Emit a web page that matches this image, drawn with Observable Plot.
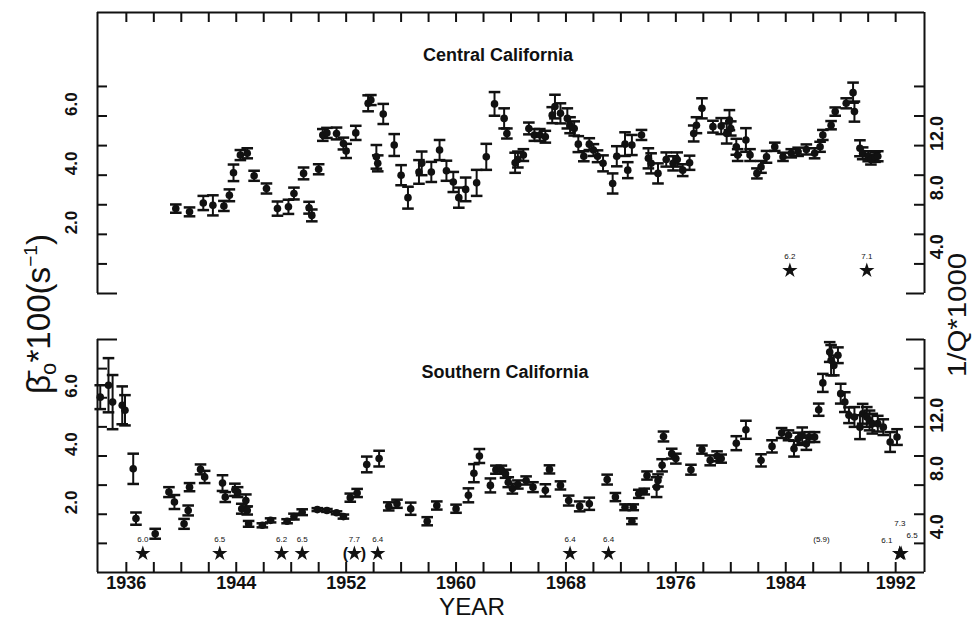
<!DOCTYPE html>
<html>
<head>
<meta charset="utf-8">
<script src="https://cdn.jsdelivr.net/npm/d3@7"></script>
<script src="https://cdn.jsdelivr.net/npm/@observablehq/plot@0.6"></script>
<style>
  html, body { margin: 0; padding: 0; background: #fff; }
  #figure { position: relative; width: 972px; height: 620px; overflow: hidden; background: #fff; }
  #figure > svg { position: absolute; left: 0; }
</style>
</head>
<body>
<div id="figure"></div>
<script>
// ---- Central California: coda decay rate (β̄o*100, s^-1) with one-sigma errors ----
const centralYear = [1939.6, 1940.6, 1941.6, 1942.3, 1943.1, 1943.5, 1943.8, 1944.3, 1944.8, 1945.3,
  1946.2, 1947.0, 1947.8, 1948.2, 1948.9, 1949.3, 1949.5, 1950.0, 1950.3, 1950.6,
  1951.3, 1951.8, 1952.0, 1952.7, 1953.6, 1953.8, 1954.2, 1954.3, 1954.7, 1955.5,
  1956.0, 1956.5, 1957.3, 1957.5, 1958.2, 1958.8, 1959.3, 1959.8, 1960.2, 1960.7,
  1961.5, 1962.2, 1962.8, 1963.5, 1963.7, 1964.3, 1964.5, 1964.9, 1965.3, 1965.7,
  1966.1, 1966.5, 1967.0, 1967.2, 1967.6, 1968.1, 1968.3, 1968.6, 1968.9, 1969.3,
  1969.7, 1970.0, 1970.3, 1970.7, 1971.4, 1971.7, 1972.3, 1972.5, 1972.8, 1973.5,
  1974.0, 1974.2, 1974.7, 1975.3, 1975.8, 1976.1, 1976.5, 1977.0, 1977.3, 1977.5,
  1977.9, 1978.7, 1979.3, 1979.7, 1979.9, 1980.0, 1980.4, 1980.5, 1981.1, 1981.4,
  1981.9, 1982.2, 1982.6, 1983.2, 1983.8, 1984.4, 1984.9, 1985.5, 1986.1, 1986.5,
  1986.7, 1987.3, 1987.6, 1988.4, 1988.9, 1989.0, 1989.4, 1989.6, 1990.0, 1990.2,
  1990.5, 1990.7];
const centralBeta = [2.87, 2.76, 3.06, 2.98, 2.96, 3.32, 4.08, 4.68, 4.74, 3.98,
  3.55, 2.87, 2.93, 3.38, 4.06, 2.90, 2.64, 4.20, 5.36, 5.43,
  5.41, 5.07, 4.82, 5.43, 6.43, 6.54, 4.62, 4.40, 6.07, 5.02,
  4.00, 3.24, 4.11, 4.40, 4.11, 4.85, 4.15, 3.77, 3.24, 3.52,
  3.74, 4.62, 6.41, 5.92, 5.41, 4.42, 4.53, 4.68, 5.58, 5.36,
  5.36, 5.30, 6.03, 6.32, 6.09, 5.92, 5.69, 5.58, 5.05, 4.64,
  5.05, 4.85, 4.64, 4.40, 3.72, 4.64, 5.05, 4.17, 5.02, 5.36,
  4.57, 4.40, 4.06, 4.53, 4.40, 4.53, 4.17, 4.42, 5.41, 5.69,
  6.26, 5.64, 5.66, 5.41, 5.86, 5.58, 4.96, 4.68, 5.19, 4.68,
  4.06, 4.28, 4.62, 4.96, 4.62, 4.74, 4.79, 4.87, 4.74, 4.96,
  5.36, 5.69, 6.15, 6.43, 6.79, 6.15, 4.91, 4.74, 4.64, 4.53,
  4.62, 4.64];
const centralErr = [0.14, 0.15, 0.24, 0.34, 0.17, 0.20, 0.28, 0.17, 0.17, 0.17,
  0.17, 0.24, 0.24, 0.20, 0.20, 0.20, 0.20, 0.17, 0.20, 0.17,
  0.20, 0.20, 0.24, 0.24, 0.27, 0.17, 0.40, 0.27, 0.34, 0.37,
  0.34, 0.37, 0.40, 0.40, 0.34, 0.34, 0.34, 0.34, 0.34, 0.40,
  0.44, 0.44, 0.40, 0.34, 0.17, 0.34, 0.27, 0.20, 0.20, 0.20,
  0.20, 0.20, 0.27, 0.40, 0.34, 0.34, 0.27, 0.24, 0.27, 0.17,
  0.20, 0.20, 0.20, 0.27, 0.34, 0.34, 0.40, 0.27, 0.34, 0.17,
  0.34, 0.34, 0.34, 0.24, 0.24, 0.24, 0.20, 0.24, 0.27, 0.27,
  0.34, 0.20, 0.27, 0.34, 0.34, 0.24, 0.27, 0.20, 0.40, 0.20,
  0.17, 0.20, 0.20, 0.14, 0.14, 0.14, 0.14, 0.17, 0.17, 0.17,
  0.17, 0.14, 0.14, 0.17, 0.34, 0.34, 0.27, 0.20, 0.17, 0.17,
  0.17, 0.17];

// ---- Southern California ----
const southernYear = [1934.1, 1934.7, 1935.0, 1935.7, 1935.9, 1936.5, 1936.7, 1938.1, 1939.1, 1939.5,
  1940.2, 1940.5, 1940.6, 1941.4, 1941.7, 1943.0, 1943.2, 1943.9, 1944.1, 1944.4,
  1944.7, 1944.8, 1944.9, 1945.9, 1946.5, 1947.7, 1948.2, 1948.8, 1949.9, 1950.6,
  1951.3, 1951.8, 1952.3, 1952.8, 1953.5, 1954.4, 1955.1, 1955.7, 1956.7, 1957.9,
  1958.6, 1960.0, 1960.9, 1961.3, 1961.7, 1962.5, 1962.9, 1963.3, 1963.6, 1963.8,
  1964.1, 1964.5, 1965.1, 1965.6, 1966.5, 1966.8, 1967.6, 1968.2, 1969.0, 1969.7,
  1971.0, 1971.6, 1972.3, 1972.8, 1972.9, 1973.3, 1973.7, 1973.9, 1974.6, 1974.7,
  1975.0, 1975.1, 1975.7, 1976.0, 1977.1, 1977.9, 1978.5, 1979.0, 1979.3, 1980.4,
  1981.1, 1982.2, 1983.0, 1983.7, 1984.2, 1984.6, 1984.9, 1985.2, 1985.5, 1985.7,
  1986.1, 1986.4, 1986.7, 1987.2, 1987.3, 1987.5, 1987.8, 1988.0, 1988.3, 1988.6,
  1989.0, 1989.4, 1989.6, 1989.9, 1990.1, 1990.3, 1990.7, 1991.1, 1991.6, 1992.1];
const southernBeta = [6.02, 6.43, 5.85, 5.74, 5.57, 3.56, 1.85, 1.33, 2.76, 2.42,
  1.67, 2.13, 2.93, 3.54, 3.28, 3.07, 2.59, 2.84, 2.76, 2.19,
  2.47, 2.13, 1.67, 1.62, 1.79, 1.76, 1.92, 2.07, 2.16, 2.13,
  2.05, 1.92, 2.57, 2.73, 3.71, 3.91, 2.27, 2.36, 2.19, 1.76,
  2.30, 2.19, 2.65, 3.41, 4.00, 2.99, 3.53, 3.53, 3.39, 3.10,
  2.88, 3.02, 3.16, 2.93, 2.82, 3.54, 2.99, 2.47, 2.27, 2.36,
  3.19, 2.59, 2.24, 1.76, 2.24, 2.70, 2.78, 3.33, 2.93, 3.16,
  3.68, 4.67, 4.08, 3.91, 3.53, 4.22, 3.85, 3.99, 3.91, 4.44,
  4.90, 3.85, 4.33, 4.79, 4.71, 4.25, 4.59, 4.71, 4.42, 4.65,
  4.65, 5.59, 6.51, 7.57, 7.29, 7.11, 7.46, 6.14, 5.85, 5.40,
  5.34, 4.99, 5.45, 5.34, 5.22, 5.11, 5.11, 4.99, 4.48, 4.65];
const southernErr = [0.41, 0.93, 0.93, 0.65, 0.52, 0.52, 0.21, 0.17, 0.17, 0.24,
  0.17, 0.17, 0.14, 0.17, 0.21, 0.27, 0.17, 0.21, 0.17, 0.17,
  0.21, 0.14, 0.10, 0.07, 0.07, 0.07, 0.10, 0.10, 0.05, 0.05,
  0.05, 0.07, 0.14, 0.14, 0.27, 0.27, 0.14, 0.14, 0.21, 0.14,
  0.14, 0.14, 0.24, 0.31, 0.24, 0.24, 0.14, 0.14, 0.14, 0.17,
  0.17, 0.14, 0.14, 0.17, 0.21, 0.14, 0.14, 0.17, 0.17, 0.21,
  0.17, 0.14, 0.10, 0.10, 0.10, 0.14, 0.10, 0.14, 0.34, 0.21,
  0.21, 0.17, 0.17, 0.17, 0.17, 0.14, 0.17, 0.17, 0.14, 0.24,
  0.31, 0.21, 0.21, 0.17, 0.17, 0.27, 0.21, 0.27, 0.21, 0.17,
  0.17, 0.21, 0.31, 0.34, 0.52, 0.34, 0.27, 0.34, 0.34, 0.27,
  0.34, 0.41, 0.34, 0.34, 0.34, 0.34, 0.27, 0.27, 0.34, 0.27];

// ---- Large earthquakes (stars) with magnitudes ----
const quakeRegion = ["central", "central",
  "southern", "southern", "southern", "southern", "southern", "southern",
  "southern", "southern", "southern", "southern", "southern", "southern"];
const quakeYear = [1984.3, 1989.9,
  1937.2, 1942.8, 1947.3, 1948.8, 1952.6, 1954.3,
  1968.3, 1971.1, 1986.6, 1992.3, 1992.3, 1992.4];
const quakeMag = ["6.2", "7.1",
  "6.0", "6.5", "6.2", "6.5", "7.7", "6.4",
  "6.4", "6.4", "5.9", "7.3", "6.1", "6.5"];
const quakeBracketed = [false, false,
  false, false, false, false, true, false,
  false, false, true, false, false, false];
const quakeStar = [true, true,
  true, true, true, true, true, true,
  true, true, false, true, true, true];

// ---- Axis ticks ----
const yearTicks = d3.range(1936, 1993, 2);
const yearLabels = [1936, 1944, 1952, 1960, 1968, 1976, 1984, 1992];
const betaTicks = [1, 2, 3, 4, 5, 6, 7];
const betaLabels = [2, 4, 6];
const invQPerBeta = 2; // right-hand scale: 1/Q*1000 = 2 × β̄o*100

const X_DOMAIN = [1933.9, 1994.1];
const W = 972, LEFT = 97, RIGHT = 48;
const FRAME_W = W - LEFT - RIGHT;
const FONT = "'Liberation Sans', Arial, sans-serif";
const INK = "#111";

const quakes = quakeYear.map((year, i) => ({
  region: quakeRegion[i], year, mag: quakeMag[i],
  label: quakeBracketed[i] ? `(${quakeMag[i]})` : quakeMag[i],
  bracketed: quakeBracketed[i], star: quakeStar[i]
}));

function rows(year, beta, err) {
  return year.map((x, i) => ({year: x, beta: beta[i], err: err[i]}));
}

// horizontal cap drawn as a dot symbol; half-width equals the dot radius
const capSymbol = {
  draw(ctx, size) {
    const w = Math.sqrt(size / Math.PI);
    ctx.moveTo(-w, 0);
    ctx.lineTo(w, 0);
  }
};

function seriesMarks(data) {
  return [
    Plot.ruleX(data, {x: "year", y1: d => d.beta - d.err, y2: d => d.beta + d.err, stroke: INK, strokeWidth: 2}),
    Plot.dot(data, {x: "year", y: d => d.beta + d.err, symbol: capSymbol, r: 5.8, stroke: INK, strokeWidth: 2.5, fill: "none"}),
    Plot.dot(data, {x: "year", y: d => d.beta - d.err, symbol: capSymbol, r: 5.8, stroke: INK, strokeWidth: 2.5, fill: "none"}),
    Plot.dot(data, {x: "year", y: "beta", r: 3.8, fill: INK, stroke: "none"})
  ];
}

function frameMarks(yTop, openEdge, frameH) {
  const marks = [
    Plot.ruleX([X_DOMAIN[0]], {stroke: INK, strokeWidth: 2}),
    Plot.ruleX([X_DOMAIN[1]], {stroke: INK, strokeWidth: 2}),
    // inward ticks on both vertical axes
    Plot.tickY(betaTicks, {y: d => d, insetRight: FRAME_W - 10, stroke: INK, strokeWidth: 2}),
    Plot.tickY(betaTicks, {y: d => d, insetLeft: FRAME_W - 10, stroke: INK, strokeWidth: 2}),
    Plot.text(betaLabels, {y: d => d, text: d => d.toFixed(1), frameAnchor: "left", lineAnchor: "middle", dx: -26, rotate: -90,
      fontSize: 17, fontWeight: "bold", fill: INK}),
    Plot.text(betaLabels, {y: d => d, text: d => (d * invQPerBeta).toFixed(1), frameAnchor: "right", lineAnchor: "middle", dx: 13, rotate: -90,
      fontSize: 18, fontWeight: "bold", fill: INK})
  ];
  const edge = openEdge === "bottom" ? 0 : yTop;
  const closed = openEdge === "bottom" ? yTop : 0;
  marks.push(
    Plot.ruleY([closed], {stroke: INK, strokeWidth: 2}),
    Plot.ruleY([edge], {insetRight: FRAME_W - 20, stroke: INK, strokeWidth: 2}),
    Plot.ruleY([edge], {insetLeft: FRAME_W - 18, stroke: INK, strokeWidth: 2}),
    openEdge === "bottom"
      ? Plot.tickX(yearTicks, {x: d => d, insetBottom: frameH - 10, stroke: INK, strokeWidth: 2})
      : Plot.tickX(yearTicks, {x: d => d, insetTop: frameH - 10, stroke: INK, strokeWidth: 2})
  );
  return marks;
}

function quakeMarks(region) {
  const q = quakes.filter(d => d.region === region);
  const single = q.filter(d => d.year < 1992);
  const cluster = q.filter(d => d.year >= 1992);
  const lift = region === "central" ? -23 : -19;
  const bracketedStars = q.filter(d => d.bracketed && d.star);
  const marks = [
    Plot.dot(q.filter(d => d.star), {x: "year", frameAnchor: "bottom", dy: lift, symbol: "star", r: 4.8, fill: INK, stroke: "none"}),
    Plot.text(single, {x: "year", text: d => d.bracketed && d.star ? d.mag : d.label,
      frameAnchor: "bottom", lineAnchor: "middle", dy: lift - 14, fontSize: 8, fill: INK}),
    Plot.text(bracketedStars, {x: "year", text: () => "(", frameAnchor: "bottom", lineAnchor: "middle", dy: lift, dx: -9, fontSize: 16, fontWeight: "bold", fill: INK}),
    Plot.text(bracketedStars, {x: "year", text: () => ")", frameAnchor: "bottom", lineAnchor: "middle", dy: lift, dx: 9, fontSize: 16, fontWeight: "bold", fill: INK})
  ];
  if (cluster.length) {
    marks.push(
      Plot.text(cluster.filter(d => d.mag === "7.3"), {x: "year", text: "label", frameAnchor: "bottom", lineAnchor: "middle", dy: lift - 30, fontSize: 8, fill: INK}),
      Plot.text(cluster.filter(d => d.mag === "6.1"), {x: "year", text: "label", frameAnchor: "bottom", lineAnchor: "middle", dy: lift - 13, dx: -13, fontSize: 8, fill: INK}),
      Plot.text(cluster.filter(d => d.mag === "6.5"), {x: "year", text: "label", frameAnchor: "bottom", lineAnchor: "middle", dy: lift - 18, dx: 11, fontSize: 8, fill: INK})
    );
  }
  return marks;
}

const figure = document.getElementById("figure");

// Central California panel
const topH = 300, topMarginTop = 12, topMarginBottom = 7;
const topFrameH = topH - topMarginTop - topMarginBottom;
const topPlot = Plot.plot({
  width: W, height: topH,
  marginLeft: LEFT, marginRight: RIGHT, marginTop: topMarginTop, marginBottom: topMarginBottom,
  x: {domain: X_DOMAIN, axis: null},
  y: {domain: [0, 9.5], axis: null},
  style: {fontFamily: FONT, background: "transparent", color: INK},
  marks: [
    ...frameMarks(9.5, "bottom", topFrameH),
    Plot.text(["Central California"], {frameAnchor: "top", lineAnchor: "middle", dy: 43, dx: -13, fontSize: 18, fontWeight: "bold", fill: INK}),
    ...seriesMarks(rows(centralYear, centralBeta, centralErr)),
    ...quakeMarks("central")
  ]
});
topPlot.style.top = "0px";
figure.appendChild(topPlot);

// Southern California panel
const botH = 320, botMarginTop = 39, botMarginBottom = 48;
const botFrameH = botH - botMarginTop - botMarginBottom;
const botPlot = Plot.plot({
  width: W, height: botH,
  marginLeft: LEFT, marginRight: RIGHT, marginTop: botMarginTop, marginBottom: botMarginBottom,
  x: {domain: X_DOMAIN, axis: null},
  y: {domain: [0, 8], axis: null},
  style: {fontFamily: FONT, background: "transparent", color: INK},
  marks: [
    ...frameMarks(8, "top", botFrameH),
    Plot.text(yearLabels, {x: d => d, text: d => String(d), frameAnchor: "bottom", lineAnchor: "middle", dy: 11, fontSize: 18, fontWeight: "bold", fill: INK}),
    Plot.text(["Southern California"], {frameAnchor: "top", lineAnchor: "middle", dy: 33, dx: -6, fontSize: 18, fontWeight: "bold", fill: INK}),
    ...seriesMarks(rows(southernYear, southernBeta, southernErr)),
    ...quakeMarks("southern")
  ]
});
botPlot.style.top = "300px";
figure.appendChild(botPlot);

// Axis titles shared by both panels
const titles = d3.create("svg")
  .attr("width", W).attr("height", 620)
  .style("top", "0px").style("pointer-events", "none")
  .style("font-family", FONT).attr("fill", INK);

const left = titles.append("text")
  .attr("transform", "translate(50,314) rotate(-90)")
  .attr("text-anchor", "middle")
  .attr("font-size", 33)
  .attr("textLength", 160).attr("lengthAdjust", "spacingAndGlyphs");
left.append("tspan").text("\u03B2\u0304");
left.append("tspan").attr("font-size", 22).attr("dy", 6).text("o");
left.append("tspan").attr("dy", -6).text("*100(s");
left.append("tspan").attr("font-size", 19).attr("dy", -13).text("\u22121");
left.append("tspan").attr("dy", 13).text(")");

titles.append("text")
  .attr("transform", "translate(966,315) rotate(-90)")
  .attr("text-anchor", "middle")
  .attr("font-size", 25)
  .attr("textLength", 124).attr("lengthAdjust", "spacingAndGlyphs")
  .text("1/Q*1000");

titles.append("text")
  .attr("x", 472).attr("y", 615)
  .attr("text-anchor", "middle")
  .attr("font-size", 23)
  .attr("textLength", 66).attr("lengthAdjust", "spacingAndGlyphs")
  .text("YEAR");

figure.appendChild(titles.node());
</script>
</body>
</html>
